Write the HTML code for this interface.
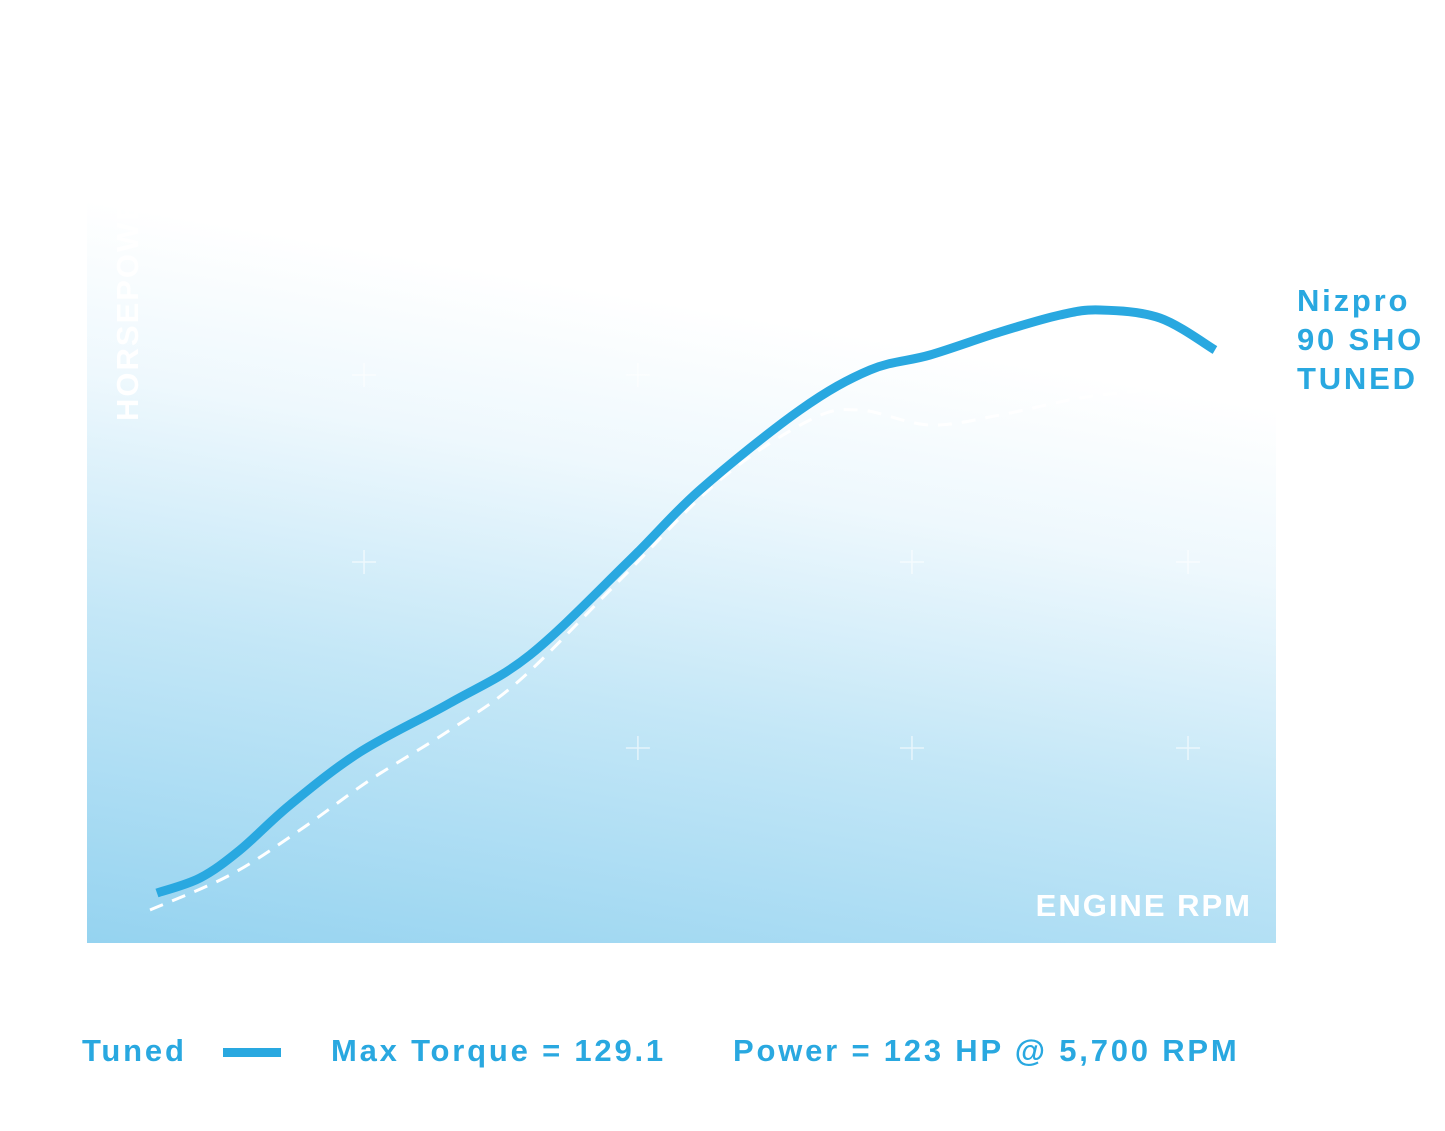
<!DOCTYPE html>
<html><head><meta charset="utf-8"><style>
body{margin:0;width:1445px;height:1131px;background:#fff;overflow:hidden;font-family:"Liberation Sans",sans-serif;position:relative}
#plot{position:absolute;left:87px;top:200px;width:1189px;height:743px;background:linear-gradient(10deg,#95d3f0 0%,#c4e7f7 35%,#eef8fd 60%,#ffffff 78%);overflow:hidden}
.t{position:absolute;font-weight:bold;color:#29a8e0;font-size:31px;white-space:nowrap;letter-spacing:2.8px}
</style></head><body>
<div id="plot">
<div style="position:absolute;left:23px;top:221px;transform-origin:0 0;transform:rotate(-90deg);color:#fff;font-weight:bold;font-size:31px;white-space:nowrap;letter-spacing:2px">HORSEPOWER</div>
<div style="position:absolute;right:24px;top:688px;color:#fff;font-weight:bold;font-size:31px;letter-spacing:2px">ENGINE RPM</div>
</div>
<svg id="svg" width="1445" height="1131" style="position:absolute;left:0;top:0"></svg>
<div class="t" style="left:1297px;top:281px;line-height:39px">Nizpro<br>90 SHO<br>TUNED</div>
<div class="t" style="left:82px;top:1033px">Tuned</div>
<div style="position:absolute;left:223px;top:1048px;width:58px;height:9px;background:#29a8e0"></div>
<div class="t" style="left:331px;top:1033px">Max Torque = 129.1</div>
<div class="t" style="left:733px;top:1033px">Power = 123 HP @ 5,700 RPM</div>
<script>
const tunedRpm=[1353,1570,1772,2024,2378,2832,3235,3740,4093,4598,4951,5254,5607,5910,6112,6414,6692];
const tunedHp=[10.0,13.0,18.6,27.6,38.2,48.0,57.6,76.6,90.6,106.6,114.6,117.6,122.2,125.6,126.6,125.0,118.6];
const stockRpm=[1318,1722,2075,2428,2832,3185,3690,4194,4648,4900,5254,5607,6011,6364];
const stockHp=[6.6,13.6,22.6,32.6,42.6,52.6,72.6,92.6,104.6,106.6,103.6,105.6,109.0,110.6];
const gridRpm=[2398,3780,2398,5163,6556,3780,5163,6556];
const gridHp=[113.6,113.6,76.2,76.2,76.2,39,39,39];
const xS=r=>87+(r-1000)*1189/6000;
const yS=h=>943-h*5;
const svg=document.getElementById('svg');
const NS='http://www.w3.org/2000/svg';
function path(xs,ys){
  const p=xs.map((x,i)=>[xS(x),yS(ys[i])]);
  let d='M'+p[0][0]+','+p[0][1];
  for(let i=0;i<p.length-1;i++){
    const p0=p[Math.max(0,i-1)],p1=p[i],p2=p[i+1],p3=p[Math.min(p.length-1,i+2)];
    d+=` C${p1[0]+(p2[0]-p0[0])/6},${p1[1]+(p2[1]-p0[1])/6} ${p2[0]-(p3[0]-p1[0])/6},${p2[1]-(p3[1]-p1[1])/6} ${p2[0]},${p2[1]}`;
  }
  return d;
}
gridRpm.forEach((r,i)=>{
  const x=xS(r), y=yS(gridHp[i]);
  const g=document.createElementNS(NS,'path');
  
  
  g.setAttribute('d',`M${x-12},${y}H${x+12}M${x},${y-12}V${y+12}`);
  g.setAttribute('stroke','rgba(255,255,255,0.6)');g.setAttribute('stroke-width','1.5');
  svg.appendChild(g);
});
const s=document.createElementNS(NS,'path');


s.setAttribute('d',path(stockRpm,stockHp));
s.setAttribute('fill','none');s.setAttribute('stroke','#fff');s.setAttribute('stroke-width','3');s.setAttribute('stroke-dasharray','14 10');
svg.appendChild(s);
const t=document.createElementNS(NS,'path');


t.setAttribute('d',path(tunedRpm,tunedHp));
t.setAttribute('fill','none');t.setAttribute('stroke','#29a8e0');t.setAttribute('stroke-width','9');
svg.appendChild(t);
</script>
</body></html>
